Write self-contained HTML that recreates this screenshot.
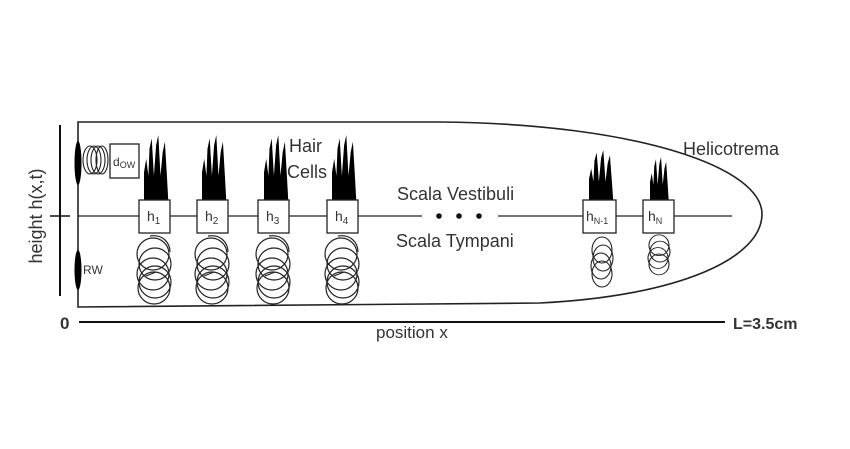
<!DOCTYPE html>
<html><head><style>
html,body{margin:0;padding:0;background:#fff;}
svg{display:block;}
text{font-family:"Liberation Sans",sans-serif;fill:#333;}
</style></head><body>
<svg width="850" height="449" viewBox="0 0 850 449" xmlns="http://www.w3.org/2000/svg">
<defs>
  <g id="hair">
    <path d="M0,38 L0,22 L2,14 L4,24 L5,8 L7,2 L9,24 L11,6 L13,0 L15,24 L17,10 L19,4 L21,26 L22,38 Z" fill="#000"/>
  </g>
  <g id="coil" fill="none" stroke="#222" stroke-width="1.2">
    <circle cx="-1" cy="18" r="16"/>
    <circle cx="1" cy="28" r="16"/>
    <circle cx="-1" cy="38" r="16"/>
    <circle cx="1" cy="46" r="16"/>
    <circle cx="0" cy="52" r="16"/>
    <path d="M-4,0 C8,-2 16,6 16,16"/>
    <path d="M-8,40 L2,36"/>
  </g>
  <g id="coilS" fill="none" stroke="#222" stroke-width="1.1">
    <ellipse cx="0" cy="14" rx="10" ry="13"/>
    <ellipse cx="1" cy="22" rx="10" ry="13"/>
    <ellipse cx="-1" cy="30" rx="10" ry="13"/>
    <ellipse cx="0" cy="38" rx="10" ry="13"/>
  </g>
</defs>
<!-- outer shape -->
<path d="M78,122 L440,122 C640,124 762,168 762,214 C762,258 680,296 540,303 L78,307 Z" fill="none" stroke="#222" stroke-width="1.6"/>
<!-- left axis -->
<line x1="60" y1="125" x2="60" y2="296" stroke="#111" stroke-width="2"/>
<line x1="50" y1="216" x2="70" y2="216" stroke="#111" stroke-width="1.5"/>
<text transform="translate(42,216) rotate(-90)" text-anchor="middle" font-size="18">height  h(x,t)</text>
<!-- windows -->
<ellipse cx="78" cy="163" rx="3.5" ry="22" fill="#000"/>
<ellipse cx="78" cy="270" rx="3.5" ry="20" fill="#000"/>
<text x="83" y="274" font-size="12">RW</text>
<g fill="none" stroke="#222" stroke-width="1.1">
  <ellipse cx="90" cy="160" rx="7" ry="14"/>
  <ellipse cx="94" cy="160" rx="7" ry="14"/>
  <ellipse cx="98" cy="160" rx="7" ry="14"/>
  <ellipse cx="102" cy="160" rx="6" ry="14"/>
</g>
<rect x="110" y="144" width="29" height="34" fill="#fff" stroke="#222" stroke-width="1.3"/>
<text x="113" y="166" font-size="12">d<tspan font-size="9" dy="2">OW</tspan></text>
<!-- midline -->
<line x1="78" y1="216" x2="422" y2="216" stroke="#222" stroke-width="1.3"/>
<line x1="498" y1="216" x2="732" y2="216" stroke="#222" stroke-width="1.3"/>
<circle cx="439" cy="216" r="2.8" fill="#111"/>
<circle cx="459" cy="216" r="2.8" fill="#111"/>
<circle cx="479" cy="216" r="2.8" fill="#111"/>
<!-- hair bundles -->
<use href="#hair" transform="translate(144,135) scale(1.1,1.7)"/>
<use href="#hair" transform="translate(202,135) scale(1.1,1.7)"/>
<use href="#hair" transform="translate(264,135) scale(1.1,1.7)"/>
<use href="#hair" transform="translate(332,135) scale(1.1,1.7)"/>
<use href="#hair" transform="translate(589,150) scale(1.1,1.32)"/>
<use href="#hair" transform="translate(650,157) scale(0.85,1.15)"/>
<!-- coils -->
<use href="#coil" transform="translate(154,236)"/>
<use href="#coil" transform="translate(212,236)"/>
<use href="#coil" transform="translate(273,236)"/>
<use href="#coil" transform="translate(342,236)"/>
<use href="#coilS" transform="translate(602,236)"/>
<use href="#coilS" transform="translate(659,234) scale(1,0.8)"/>
<!-- boxes -->
<g fill="#fff" stroke="#222" stroke-width="1.3">
  <rect x="139" y="200" width="31" height="33"/>
  <rect x="197" y="200" width="31" height="33"/>
  <rect x="258" y="200" width="31" height="33"/>
  <rect x="327" y="200" width="31" height="33"/>
  <rect x="583" y="200" width="33" height="33"/>
  <rect x="643" y="200" width="31" height="33"/>
</g>
<g font-size="14">
<text x="147" y="221">h<tspan font-size="10" dy="3">1</tspan></text>
<text x="205" y="221">h<tspan font-size="10" dy="3">2</tspan></text>
<text x="266" y="221">h<tspan font-size="10" dy="3">3</tspan></text>
<text x="335" y="221">h<tspan font-size="10" dy="3">4</tspan></text>
<text x="586" y="221">h<tspan font-size="9" dy="3">N-1</tspan></text>
<text x="648" y="221">h<tspan font-size="9" dy="3">N</tspan></text>
</g>
<!-- labels -->
<text x="289" y="152" font-size="18">Hair</text>
<text x="287" y="178" font-size="18">Cells</text>
<text x="397" y="200" font-size="18">Scala Vestibuli</text>
<text x="396" y="247" font-size="18">Scala Tympani</text>
<text x="683" y="155" font-size="18">Helicotrema</text>
<!-- bottom axis -->
<text x="60" y="329" font-size="17" font-weight="bold" fill="#222">0</text>
<line x1="79" y1="322" x2="725" y2="322" stroke="#111" stroke-width="2"/>
<text x="733" y="329" font-size="16" font-weight="bold" fill="#222">L=3.5cm</text>
<text x="376" y="338" font-size="17">position x</text>
</svg>
</body></html>
